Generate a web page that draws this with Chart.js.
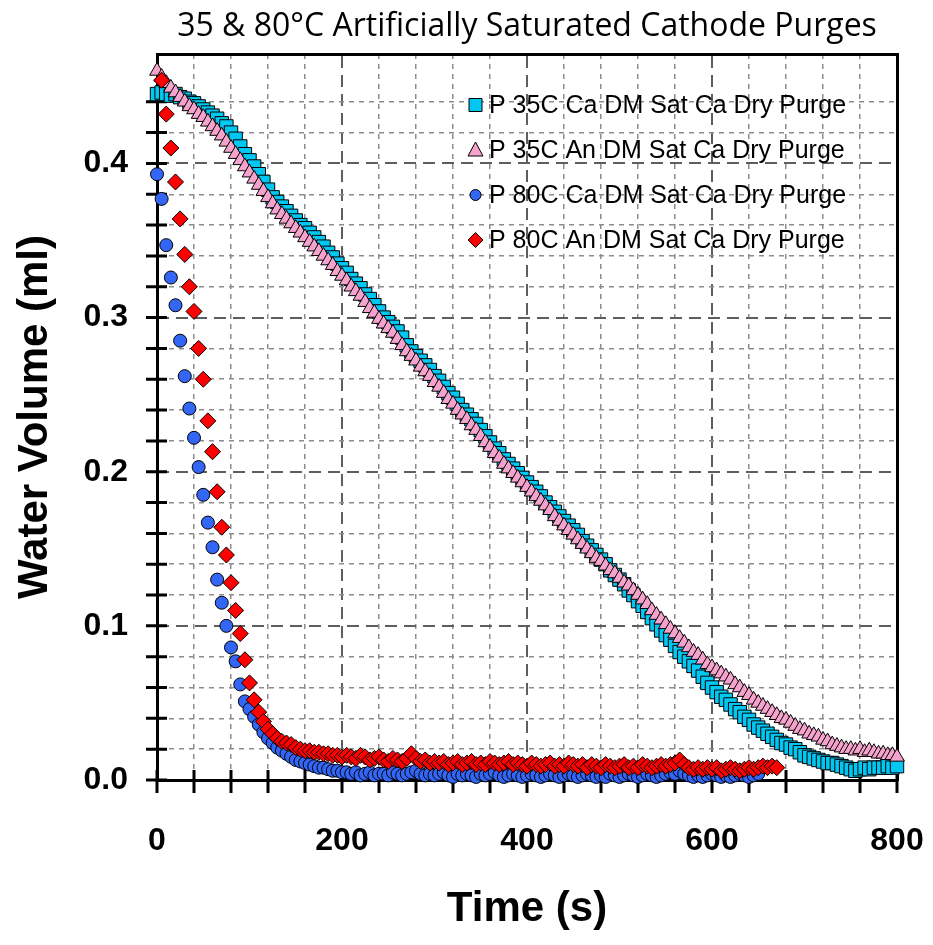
<!DOCTYPE html>
<html>
<head>
<meta charset="utf-8">
<title>35 & 80°C Artificially Saturated Cathode Purges</title>
<script src="https://cdn.jsdelivr.net/npm/chart.js@4.4.1/dist/chart.umd.min.js"></script>
<style>
  html, body { margin: 0; padding: 0; background: #ffffff; }
  #wrap { width: 933px; height: 945px; }
</style>
</head>
<body>
<div id="wrap"><canvas id="purgeChart" width="933" height="945"></canvas></div>
<script>
// Sample times (s), shared by all four runs
const times = [
  0, 5, 10, 15, 20, 25, 30, 35, 40, 45,
  50, 55, 60, 65, 70, 75, 80, 85, 90, 95,
  100, 105, 110, 115, 120, 125, 130, 135, 140, 145,
  150, 155, 160, 165, 170, 175, 180, 185, 190, 195,
  200, 205, 210, 215, 220, 225, 230, 235, 240, 245,
  250, 255, 260, 265, 270, 275, 280, 285, 290, 295,
  300, 305, 310, 315, 320, 325, 330, 335, 340, 345,
  350, 355, 360, 365, 370, 375, 380, 385, 390, 395,
  400, 405, 410, 415, 420, 425, 430, 435, 440, 445,
  450, 455, 460, 465, 470, 475, 480, 485, 490, 495,
  500, 505, 510, 515, 520, 525, 530, 535, 540, 545,
  550, 555, 560, 565, 570, 575, 580, 585, 590, 595,
  600, 605, 610, 615, 620, 625, 630, 635, 640, 645,
  650, 655, 660, 665, 670, 675, 680, 685, 690, 695,
  700, 705, 710, 715, 720, 725, 730, 735, 740, 745,
  750, 755, 760, 765, 770, 775, 780, 785, 790, 795,
  800
];

// P 35C Ca DM Sat Ca Dry Purge (t = 0 .. 800)
const ca35 = [
  .445, .446, .445, .444, .445, .443, .442, .440, .439, .437,
  .435, .433, .431, .429, .426, .424, .420, .416, .411, .406,
  .402, .398, .393, .388, .383, .378, .375, .372, .369, .366,
  .363, .360, .358, .355, .352, .349, .346, .342, .339, .335,
  .332, .329, .325, .322, .319, .315, .312, .308, .304, .300,
  .297, .294, .291, .287, .282, .278, .275, .272, .269, .266,
  .262, .259, .255, .251, .248, .244, .240, .237, .234, .231,
  .227, .223, .219, .215, .212, .208, .205, .202, .199, .196,
  .193, .190, .187, .184, .180, .177, .174, .171, .168, .165,
  .162, .159, .155, .152, .149, .146, .143, .140, .136, .133,
  .130, .127, .123, .120, .116, .113, .109, .105, .101, .097,
  .094, .091, .087, .083, .080, .077, .074, .071, .067, .063,
  .060, .057, .054, .052, .049, .046, .044, .041, .039, .036,
  .034, .032, .030, .028, .026, .024, .023, .021, .020, .018,
  .016, .015, .014, .013, .012, .011, .011, .010, .009, .008,
  .007, .006, .007, .008, .007, .008, .008, .008, .009, .008,
  .009
];

// P 35C An DM Sat Ca Dry Purge (t = 0 .. 800)
const an35 = [
  .460, .456, .452, .449, .446, .443, .440, .437, .435, .432,
  .430, .427, .424, .421, .418, .414, .410, .406, .402, .398,
  .394, .390, .386, .382, .378, .374, .370, .367, .364, .361,
  .358, .355, .352, .349, .346, .343, .340, .337, .334, .330,
  .327, .324, .320, .317, .314, .310, .306, .303, .299, .296,
  .293, .290, .286, .282, .278, .275, .272, .268, .265, .262,
  .258, .255, .251, .247, .244, .240, .237, .234, .230, .227,
  .223, .219, .216, .212, .209, .205, .202, .199, .196, .193,
  .190, .187, .184, .181, .178, .175, .171, .168, .165, .162,
  .159, .156, .153, .150, .147, .144, .142, .139, .136, .134,
  .131, .128, .126, .123, .120, .117, .114, .110, .107, .104,
  .101, .098, .095, .092, .089, .086, .083, .081, .078, .075,
  .073, .071, .069, .067, .065, .062, .060, .057, .055, .052,
  .050, .048, .046, .044, .042, .040, .039, .037, .035, .033,
  .032, .030, .029, .028, .026, .025, .023, .022, .021, .020,
  .020, .019, .020, .018, .019, .018, .017, .017, .016, .016,
  .015
];

// P 80C Ca DM Sat Ca Dry Purge (t = 0 .. 650)
const ca80 = [
  .393, .377, .347, .326, .308, .285, .262, .241, .222, .203,
  .185, .167, .151, .130, .115, .100, .086, .077, .062, .051,
  .046, .041, .036, .031, .027, .024, .021, .019, .017, .015,
  .013, .012, .011, .010, .009, .008, .008, .007, .006, .006,
  .005, .005, .004, .005, .003, .004, .005, .003, .004, .004,
  .003, .005, .004, .003, .004, .005, .006, .004, .003, .004,
  .003, .004, .005, .003, .002, .004, .003, .004, .003, .002,
  .004, .003, .004, .005, .003, .002, .003, .004, .003, .002,
  .003, .004, .003, .002, .003, .004, .003, .002, .003, .004,
  .003, .002, .003, .004, .003, .002, .003, .002, .004, .003,
  .002, .003, .004, .003, .002, .003, .004, .003, .002, .003,
  .004, .005, .004, .006, .004, .003, .002, .003, .002, .003,
  .004, .003, .002, .003, .002, .003, .004, .003, .002, .003,
  .004
];

// P 80C An DM Sat Ca Dry Purge (t = 5 .. 670)
const an80 = [
  .454, .432, .410, .388, .364, .341, .320, .304, .280, .260,
  .233, .213, .187, .164, .146, .128, .110, .095, .078, .063,
  .052, .044, .038, .033, .030, .027, .025, .024, .023, .021,
  .020, .019, .019, .018, .018, .017, .017, .016, .016, .015,
  .016, .015, .014, .016, .015, .013, .014, .015, .013, .012,
  .014, .013, .012, .014, .017, .014, .012, .013, .011, .012,
  .011, .012, .010, .011, .012, .010, .011, .012, .010, .011,
  .010, .012, .011, .010, .011, .012, .010, .011, .010, .009,
  .011, .010, .009, .010, .011, .009, .010, .009, .011, .010,
  .009, .010, .008, .010, .009, .008, .010, .009, .008, .009,
  .010, .008, .009, .008, .010, .009, .008, .009, .010, .009,
  .010, .011, .013, .010, .008, .007, .008, .007, .008, .007,
  .008, .006, .007, .008, .007, .006, .007, .008, .007, .008,
  .009, .008, .009, .008
];

const seriesLabels = [
  'P 35C Ca DM Sat Ca Dry Purge',
  'P 35C An DM Sat Ca Dry Purge',
  'P 80C Ca DM Sat Ca Dry Purge',
  'P 80C An DM Sat Ca Dry Purge'
];

const xTickLabels = [0, 200, 400, 600, 800];
const yTickLabels = [0.0, 0.1, 0.2, 0.3, 0.4];

const sansFamily = "'Liberation Sans', Arial, sans-serif";
const clear = 'rgba(0,0,0,0)';
const minorGrid = '#8c8c8c';
const majorGrid = '#5e5e5e';

const isMultiple = (v, step) => Math.abs(v / step - Math.round(v / step)) < 1e-6;
const isLabelX = v => xTickLabels.some(t => Math.abs(t - v) < 1e-6);
const isLabelY = v => yTickLabels.some(t => Math.abs(t - v) < 1e-6);

const toPoints = (vals, offset) => vals.map((v, i) => ({ x: times[i + offset], y: v }));

// tick marks that cross the left and bottom axes
const axisTicks = {
  id: 'axisTicks',
  beforeDatasetsDraw(chart) {
    const { ctx, chartArea } = chart;
    const xs = chart.scales.x, ys = chart.scales.y;
    ctx.save();
    ctx.strokeStyle = '#000';
    ctx.lineWidth = 3;
    ctx.beginPath();
    xs.ticks.forEach(t => {
      const px = xs.getPixelForValue(t.value);
      ctx.moveTo(px, chartArea.bottom - 10);
      ctx.lineTo(px, chartArea.bottom + 13);
    });
    ys.ticks.forEach(t => {
      if (!isMultiple(t.value, 0.02)) return;
      const py = ys.getPixelForValue(t.value);
      ctx.moveTo(chartArea.left - 11, py);
      ctx.lineTo(chartArea.left + 10, py);
    });
    ctx.stroke();
    ctx.restore();
  }
};

// legend inside the plot, top right
function legendMarker(ctx, style, x, y) {
  ctx.beginPath();
  if (style === 'rect') {
    ctx.rect(x - 6.5, y - 6.5, 13, 13);
  } else if (style === 'triangle') {
    ctx.moveTo(x, y - 8);
    ctx.lineTo(x + 7.5, y + 6);
    ctx.lineTo(x - 7.5, y + 6);
    ctx.closePath();
  } else if (style === 'circle') {
    ctx.arc(x, y, 5.5, 0, Math.PI * 2);
  } else {
    ctx.moveTo(x, y - 7.5);
    ctx.lineTo(x + 7.5, y);
    ctx.lineTo(x, y + 7.5);
    ctx.lineTo(x - 7.5, y);
    ctx.closePath();
  }
  ctx.fill();
  ctx.stroke();
}

const insideLegend = {
  id: 'insideLegend',
  afterDraw(chart) {
    const ctx = chart.ctx;
    ctx.save();
    ctx.font = '25px ' + sansFamily;
    ctx.textBaseline = 'middle';
    ctx.textAlign = 'left';
    chart.data.datasets.forEach((ds, i) => {
      const y = 105 + i * 45;
      ctx.fillStyle = ds.backgroundColor;
      ctx.strokeStyle = '#000';
      ctx.lineWidth = 1;
      legendMarker(ctx, ds.pointStyle, 475.5, y);
      ctx.fillStyle = '#000';
      ctx.fillText(ds.label, 489, y + 1);
    });
    ctx.restore();
  }
};

new Chart(document.getElementById('purgeChart'), {
  type: 'scatter',
  data: {
    datasets: [
      {
        label: seriesLabels[0],
        data: toPoints(ca35, 0),
        pointStyle: 'rect',
        pointRadius: 9.5,
        backgroundColor: '#00c8f2',
        borderColor: '#000',
        borderWidth: 1,
        order: 4,
        clip: false
      },
      {
        label: seriesLabels[1],
        data: toPoints(an35, 0),
        pointStyle: 'triangle',
        pointRadius: 8.5,
        backgroundColor: '#f5a3cd',
        borderColor: '#000',
        borderWidth: 1,
        order: 3,
        clip: false
      },
      {
        label: seriesLabels[2],
        data: toPoints(ca80, 0),
        pointStyle: 'circle',
        pointRadius: 6.5,
        backgroundColor: '#3366f5',
        borderColor: '#000',
        borderWidth: 1,
        order: 2,
        clip: false
      },
      {
        label: seriesLabels[3],
        data: toPoints(an80, 1),
        pointStyle: 'rectRot',
        pointRadius: 8,
        backgroundColor: '#ff0000',
        borderColor: '#000',
        borderWidth: 1,
        order: 1,
        clip: false
      }
    ]
  },
  options: {
    responsive: false,
    animation: false,
    events: [],
    layout: { padding: 0 },
    plugins: {
      legend: { display: false },
      tooltip: { enabled: false },
      title: {
        display: true,
        fullSize: false,
        text: '35 & 80°C Artificially Saturated Cathode Purges',
        color: '#000',
        font: { family: "'Open Sans', Lato, sans-serif", size: 32, weight: 'normal' },
        padding: { top: 8, bottom: 7.6 }
      }
    },
    scales: {
      x: {
        type: 'linear',
        position: 'bottom',
        min: 0,
        max: 800,
        afterFit: s => { s.height = 165; },
        ticks: {
          stepSize: 40,
          autoSkip: false,
          maxRotation: 0,
          padding: 0,
          color: '#000',
          font: { family: sansFamily, size: 32, weight: 'bold' },
          callback: v => isLabelX(v) ? String(v) : ''
        },
        grid: {
          drawTicks: true,
          tickLength: 42,
          tickColor: clear,
          lineWidth: 1.5,
          color: c => isMultiple(c.tick.value, 200) ? clear : minorGrid
        },
        border: { display: true, color: '#000', width: 3, dash: [5, 5] },
        title: {
          display: true,
          text: 'Time (s)',
          color: '#000',
          font: { family: sansFamily, size: 42, weight: 'bold' },
          padding: { top: 0, bottom: 10 }
        }
      },
      xMajor: {
        type: 'linear',
        position: 'top',
        min: 0,
        max: 800,
        afterFit: s => { s.height = 0; },
        ticks: { display: false, stepSize: 200 },
        grid: {
          drawTicks: false,
          lineWidth: 2,
          color: c => (c.tick.value <= 0 || c.tick.value >= 800) ? clear : majorGrid
        },
        border: { display: true, color: '#000', width: 3, dash: [12, 7] }
      },
      y: {
        type: 'linear',
        position: 'left',
        min: 0,
        max: 0.471,
        afterFit: s => { s.width = 157; },
        ticks: {
          stepSize: 0.02,
          autoSkip: false,
          padding: 29,
          color: '#000',
          font: { family: sansFamily, size: 32, weight: 'bold' },
          callback: v => isLabelY(v) ? v.toFixed(1) : ''
        },
        grid: {
          drawTicks: false,
          lineWidth: 1.5,
          color: c => (isMultiple(c.tick.value, 0.1) || !isMultiple(c.tick.value, 0.02)) ? clear : minorGrid
        },
        border: { display: true, color: '#000', width: 3, dash: [5, 5] },
        title: {
          display: true,
          text: 'Water Volume (ml)',
          color: '#000',
          font: { family: sansFamily, size: 42, weight: 'bold' },
          padding: { top: 10, bottom: 0 }
        }
      },
      yMajor: {
        type: 'linear',
        position: 'right',
        min: 0,
        max: 0.471,
        afterFit: s => { s.width = 36; },
        ticks: { display: false, stepSize: 0.1 },
        grid: {
          drawTicks: false,
          lineWidth: 2,
          color: c => (c.tick.value <= 0 || !isMultiple(c.tick.value, 0.1)) ? clear : majorGrid
        },
        border: { display: true, color: '#000', width: 3, dash: [12, 7] }
      }
    }
  },
  plugins: [axisTicks, insideLegend]
});
</script>
</body>
</html>
